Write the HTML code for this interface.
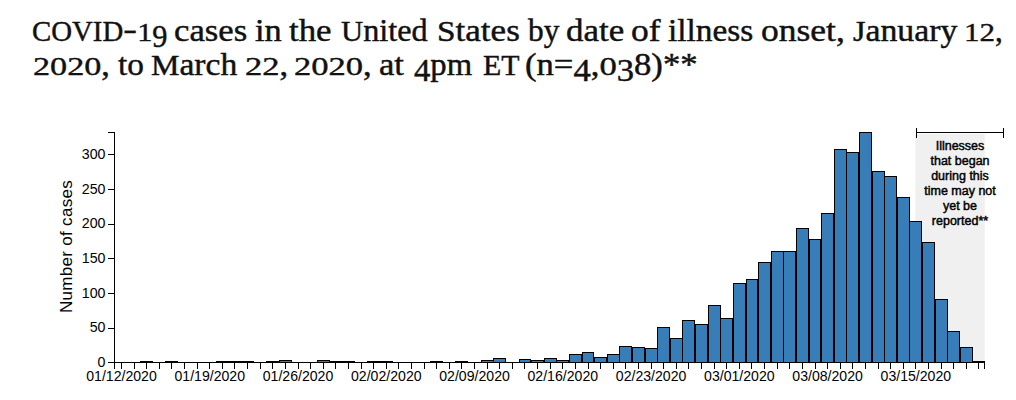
<!DOCTYPE html>
<html><head><meta charset="utf-8"><title>COVID-19 cases</title>
<style>
html,body{margin:0;padding:0;background:#fff;}
body{width:1016px;height:400px;overflow:hidden;position:relative;font-family:"Liberation Sans",sans-serif;}
svg{position:absolute;left:0;top:0;}
svg text{font-family:"Liberation Sans",sans-serif;fill:#000;}

.tw{position:absolute;white-space:nowrap;font-family:"Liberation Serif",serif;font-weight:400;font-size:32px;line-height:40px;color:#111;-webkit-text-stroke:0.45px #111;transform-origin:0 0;}
.tw i{font-style:normal;display:inline-block;transform-origin:50% 30.80px;transform:scaleY(0.76);}
.tw b{font-weight:400;position:relative;top:6px;}
.tw em{font-style:normal;font-size:30.4px;}
.tw s{text-decoration:none;display:inline-block;position:relative;top:-2px;transform:scaleX(1.35);margin:0 2px;}

</style></head><body>
<span class="tw" style="left:32.35px;top:9.90px;transform:scaleX(0.9482)"><em>C</em><em>O</em><em>V</em><em>I</em><em>D</em><s>-</s><i>1</i><b>9</b></span>
<span class="tw" style="left:173.92px;top:9.90px;transform:scaleX(1.0833)">cases</span>
<span class="tw" style="left:254.50px;top:9.90px;transform:scaleX(1.0720)">in</span>
<span class="tw" style="left:288.80px;top:9.90px;transform:scaleX(1.0897)">the</span>
<span class="tw" style="left:341.30px;top:9.90px;transform:scaleX(1.0081)"><em>U</em>nited</span>
<span class="tw" style="left:436.61px;top:9.90px;transform:scaleX(1.0959)"><em>S</em>tates</span>
<span class="tw" style="left:527.50px;top:9.90px;transform:scaleX(0.9781)">by</span>
<span class="tw" style="left:565.91px;top:9.90px;transform:scaleX(1.0923)">date</span>
<span class="tw" style="left:631.39px;top:9.90px;transform:scaleX(1.1077)">of</span>
<span class="tw" style="left:667.50px;top:9.90px;transform:scaleX(1.0432)">illness</span>
<span class="tw" style="left:761.39px;top:9.90px;transform:scaleX(1.1096)">onset,</span>
<span class="tw" style="left:852.50px;top:9.90px;transform:scaleX(1.0556)"><em>J</em>anuary</span>
<span class="tw" style="left:963.86px;top:9.90px;transform:scaleX(0.9722)"><i>1</i><i>2</i>,</span>
<span class="tw" style="left:32.73px;top:44.40px;transform:scaleX(1.0681)"><i>2</i><i>0</i><i>2</i><i>0</i>,</span>
<span class="tw" style="left:117.50px;top:44.40px;transform:scaleX(1.0417)">to</span>
<span class="tw" style="left:151.30px;top:44.40px;transform:scaleX(1.0512)"><em>M</em>arch</span>
<span class="tw" style="left:245.22px;top:44.40px;transform:scaleX(1.0811)"><i>2</i><i>2</i>,</span>
<span class="tw" style="left:294.42px;top:44.40px;transform:scaleX(1.0797)"><i>2</i><i>0</i><i>2</i><i>0</i>,</span>
<span class="tw" style="left:378.92px;top:44.40px;transform:scaleX(1.0818)">at</span>
<span class="tw" style="left:413.80px;top:44.40px;transform:scaleX(1.0211)"><b>4</b>pm</span>
<span class="tw" style="left:482.50px;top:44.40px;transform:scaleX(0.9811)"><em>E</em><em>T</em></span>
<span class="tw" style="left:525.22px;top:44.40px;transform:scaleX(1.0828)">(n=<b>4</b>,<i>0</i><b>3</b>8)**</span>
<svg width="1016" height="400" viewBox="0 0 1016 400">
<rect x="915.37" y="134" width="69.43" height="228.50" fill="#f0f0f0"/>
<g fill="#377eb8" stroke="#000" stroke-width="1" shape-rendering="crispEdges">
<rect x="140.77" y="361.81" width="11.91" height="0.69"/>
<rect x="165.99" y="361.81" width="11.91" height="0.69"/>
<rect x="216.42" y="361.81" width="11.91" height="0.69"/>
<rect x="229.03" y="361.81" width="11.91" height="0.69"/>
<rect x="241.64" y="361.81" width="11.91" height="0.69"/>
<rect x="266.86" y="361.81" width="11.91" height="0.69"/>
<rect x="279.47" y="360.42" width="11.91" height="2.08"/>
<rect x="317.29" y="360.42" width="11.91" height="2.08"/>
<rect x="329.90" y="361.81" width="11.91" height="0.69"/>
<rect x="342.51" y="361.81" width="11.91" height="0.69"/>
<rect x="367.73" y="361.81" width="11.91" height="0.69"/>
<rect x="380.34" y="361.81" width="11.91" height="0.69"/>
<rect x="430.78" y="361.81" width="11.91" height="0.69"/>
<rect x="455.99" y="361.81" width="11.91" height="0.69"/>
<rect x="481.21" y="360.42" width="11.91" height="2.08"/>
<rect x="493.82" y="358.34" width="11.91" height="4.16"/>
<rect x="519.04" y="359.73" width="11.91" height="2.77"/>
<rect x="531.65" y="360.42" width="11.91" height="2.08"/>
<rect x="544.26" y="358.34" width="11.91" height="4.16"/>
<rect x="556.87" y="360.42" width="11.91" height="2.08"/>
<rect x="569.47" y="354.88" width="11.91" height="7.62"/>
<rect x="582.08" y="352.80" width="11.91" height="9.70"/>
<rect x="594.69" y="357.65" width="11.91" height="4.85"/>
<rect x="607.30" y="354.88" width="11.91" height="7.62"/>
<rect x="619.91" y="346.57" width="11.91" height="15.93"/>
<rect x="632.52" y="347.95" width="11.91" height="14.55"/>
<rect x="645.13" y="348.64" width="11.91" height="13.86"/>
<rect x="657.74" y="327.86" width="11.91" height="34.64"/>
<rect x="670.35" y="338.95" width="11.91" height="23.55"/>
<rect x="682.96" y="320.93" width="11.91" height="41.57"/>
<rect x="695.56" y="324.40" width="11.91" height="38.10"/>
<rect x="708.17" y="305.69" width="11.91" height="56.81"/>
<rect x="720.78" y="318.86" width="11.91" height="43.64"/>
<rect x="733.39" y="283.52" width="11.91" height="78.98"/>
<rect x="746.00" y="279.37" width="11.91" height="83.13"/>
<rect x="758.61" y="262.05" width="11.91" height="100.45"/>
<rect x="771.22" y="251.66" width="11.91" height="110.84"/>
<rect x="783.83" y="251.66" width="11.91" height="110.84"/>
<rect x="796.44" y="228.80" width="11.91" height="133.70"/>
<rect x="809.05" y="239.88" width="11.91" height="122.62"/>
<rect x="821.65" y="213.55" width="11.91" height="148.95"/>
<rect x="834.26" y="149.82" width="11.91" height="212.68"/>
<rect x="846.87" y="152.59" width="11.91" height="209.91"/>
<rect x="859.48" y="132.50" width="11.91" height="230.00"/>
<rect x="872.09" y="171.99" width="11.91" height="190.51"/>
<rect x="884.70" y="176.14" width="11.91" height="186.36"/>
<rect x="897.31" y="197.62" width="11.91" height="164.88"/>
<rect x="909.92" y="221.87" width="11.91" height="140.63"/>
<rect x="922.53" y="242.65" width="11.91" height="119.85"/>
<rect x="935.14" y="299.46" width="11.91" height="63.04"/>
<rect x="947.74" y="331.33" width="11.91" height="31.17"/>
<rect x="960.35" y="347.95" width="11.91" height="14.55"/>
<rect x="972.96" y="361.81" width="11.91" height="0.69"/>
</g>
<g stroke="#000" stroke-width="1" fill="none" shape-rendering="crispEdges">
<path d="M108.0,132.5 H114.5 V362.5 H108.0"/>
<path d="M108.0,328.5 H114.5"/>
<path d="M108.0,293.5 H114.5"/>
<path d="M108.0,258.5 H114.5"/>
<path d="M108.0,224.5 H114.5"/>
<path d="M108.0,189.5 H114.5"/>
<path d="M108.0,154.5 H114.5"/>
<path d="M114.5,368.5 V362.5 H984.50 V368.5"/>
<path d="M121.50,362.5 V368.5"/>
<path d="M134.11,362.5 V368.5"/>
<path d="M146.72,362.5 V368.5"/>
<path d="M159.33,362.5 V368.5"/>
<path d="M171.94,362.5 V368.5"/>
<path d="M184.55,362.5 V368.5"/>
<path d="M197.16,362.5 V368.5"/>
<path d="M209.77,362.5 V368.5"/>
<path d="M222.38,362.5 V368.5"/>
<path d="M234.99,362.5 V368.5"/>
<path d="M247.59,362.5 V368.5"/>
<path d="M260.20,362.5 V368.5"/>
<path d="M272.81,362.5 V368.5"/>
<path d="M285.42,362.5 V368.5"/>
<path d="M298.03,362.5 V368.5"/>
<path d="M310.64,362.5 V368.5"/>
<path d="M323.25,362.5 V368.5"/>
<path d="M335.86,362.5 V368.5"/>
<path d="M348.47,362.5 V368.5"/>
<path d="M361.08,362.5 V368.5"/>
<path d="M373.68,362.5 V368.5"/>
<path d="M386.29,362.5 V368.5"/>
<path d="M398.90,362.5 V368.5"/>
<path d="M411.51,362.5 V368.5"/>
<path d="M424.12,362.5 V368.5"/>
<path d="M436.73,362.5 V368.5"/>
<path d="M449.34,362.5 V368.5"/>
<path d="M461.95,362.5 V368.5"/>
<path d="M474.56,362.5 V368.5"/>
<path d="M487.17,362.5 V368.5"/>
<path d="M499.77,362.5 V368.5"/>
<path d="M512.38,362.5 V368.5"/>
<path d="M524.99,362.5 V368.5"/>
<path d="M537.60,362.5 V368.5"/>
<path d="M550.21,362.5 V368.5"/>
<path d="M562.82,362.5 V368.5"/>
<path d="M575.43,362.5 V368.5"/>
<path d="M588.04,362.5 V368.5"/>
<path d="M600.65,362.5 V368.5"/>
<path d="M613.26,362.5 V368.5"/>
<path d="M625.86,362.5 V368.5"/>
<path d="M638.47,362.5 V368.5"/>
<path d="M651.08,362.5 V368.5"/>
<path d="M663.69,362.5 V368.5"/>
<path d="M676.30,362.5 V368.5"/>
<path d="M688.91,362.5 V368.5"/>
<path d="M701.52,362.5 V368.5"/>
<path d="M714.13,362.5 V368.5"/>
<path d="M726.74,362.5 V368.5"/>
<path d="M739.35,362.5 V368.5"/>
<path d="M751.95,362.5 V368.5"/>
<path d="M764.56,362.5 V368.5"/>
<path d="M777.17,362.5 V368.5"/>
<path d="M789.78,362.5 V368.5"/>
<path d="M802.39,362.5 V368.5"/>
<path d="M815.00,362.5 V368.5"/>
<path d="M827.61,362.5 V368.5"/>
<path d="M840.22,362.5 V368.5"/>
<path d="M852.83,362.5 V368.5"/>
<path d="M865.44,362.5 V368.5"/>
<path d="M878.04,362.5 V368.5"/>
<path d="M890.65,362.5 V368.5"/>
<path d="M903.26,362.5 V368.5"/>
<path d="M915.87,362.5 V368.5"/>
<path d="M928.48,362.5 V368.5"/>
<path d="M941.09,362.5 V368.5"/>
<path d="M953.70,362.5 V368.5"/>
<path d="M966.31,362.5 V368.5"/>
<path d="M978.92,362.5 V368.5"/>
<path d="M916.50,132.5 H1003.50 M916.50,128.0 V138.0 M1003.50,128.0 V138.0"/>
</g>
<g font-size="14.2" text-anchor="end">
<text x="105.5" y="367.10">0</text>
<text x="105.5" y="332.43">50</text>
<text x="105.5" y="297.77">100</text>
<text x="105.5" y="263.10">150</text>
<text x="105.5" y="228.43">200</text>
<text x="105.5" y="193.77">250</text>
<text x="105.5" y="159.10">300</text>
</g>
<g font-size="14.1" text-anchor="middle">
<text x="121.50" y="381">01/12/2020</text>
<text x="209.77" y="381">01/19/2020</text>
<text x="298.03" y="381">01/26/2020</text>
<text x="386.29" y="381">02/02/2020</text>
<text x="474.56" y="381">02/09/2020</text>
<text x="562.82" y="381">02/16/2020</text>
<text x="651.08" y="381">02/23/2020</text>
<text x="739.35" y="381">03/01/2020</text>
<text x="827.61" y="381">03/08/2020</text>
<text x="915.87" y="381">03/15/2020</text>
</g>
<text transform="translate(71.5,246.5) rotate(-90)" font-size="17" letter-spacing="0.3" text-anchor="middle">Number of cases</text>
<g font-size="12.5" text-anchor="middle" stroke="#000" stroke-width="0.45">
<text x="960" y="150.0">Illnesses</text>
<text x="960" y="165.0">that began</text>
<text x="960" y="180.0">during this</text>
<text x="960" y="195.0">time may not</text>
<text x="960" y="210.0">yet be</text>
<text x="960" y="225.0">reported**</text>
</g>
</svg></body></html>
